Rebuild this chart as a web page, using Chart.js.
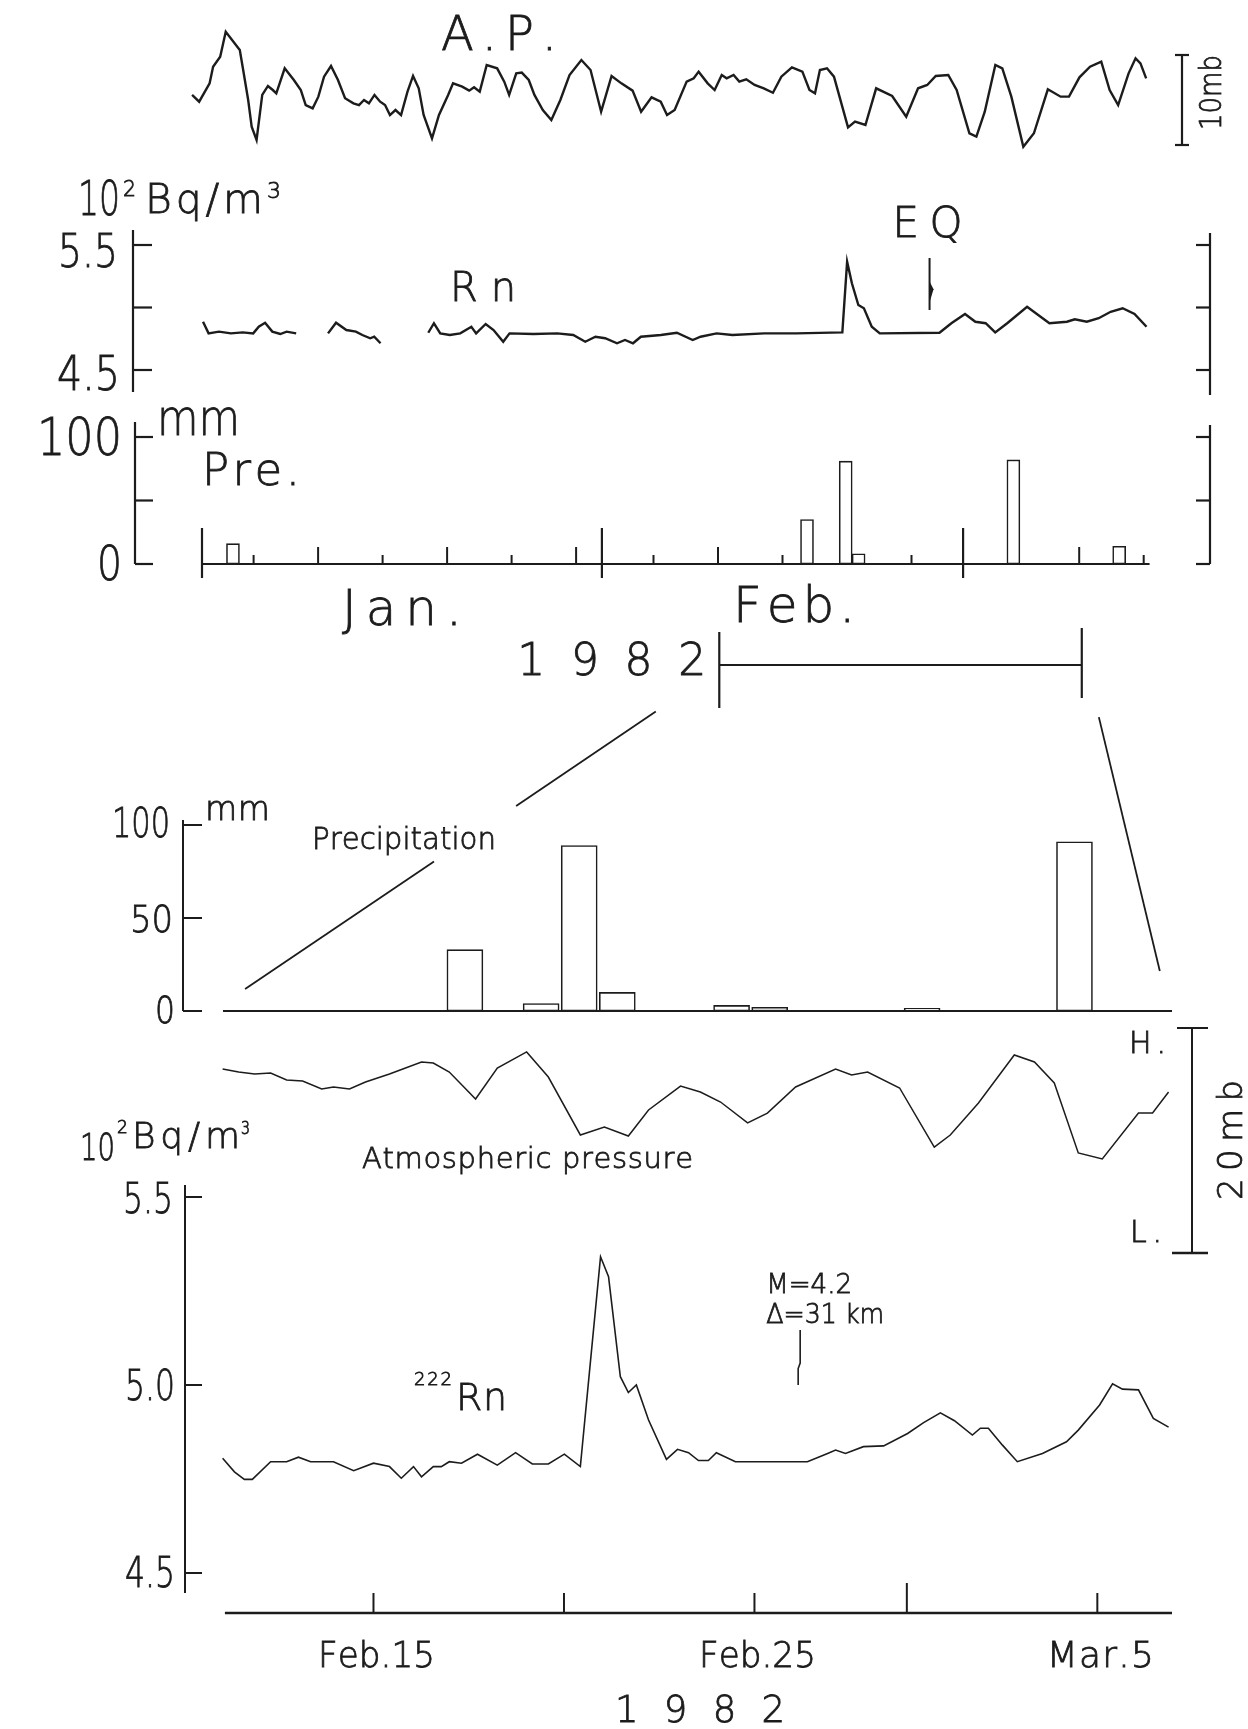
<!DOCTYPE html>
<html>
<head>
<meta charset="utf-8">
<title>Radon, atmospheric pressure and precipitation, 1982</title>
<script src="https://cdn.jsdelivr.net/npm/chart.js@4.4.1/dist/chart.umd.min.js"></script>
<style>
  html, body { margin: 0; padding: 0; background: #fff; }
  #sheet { position: relative; width: 1248px; height: 1729px; overflow: hidden; background: #fff; }
  #sheet canvas { position: absolute; left: 0; }
</style>
</head>
<body>
<div id="sheet"></div>
<script>
const INK = '#1c1c1c';
const FACE = '"DejaVu Sans", "Liberation Sans", sans-serif';
const WEIGHT = '200';

// ---------- Jan - Mar record, x = days since 1 Jan 1982 ----------
const apYearDay = [-0.77,-0.22,0.59,0.86,1.41,1.84,2.93,3.15,3.58,3.85,
  4.23,4.67,5.11,5.49,5.76,6.41,7.12,7.66,8.04,8.58,
  9.02,9.46,10.0,10.54,11.09,11.74,12.17,12.56,12.94,13.37,
  13.81,14.19,14.57,15.0,15.43,15.93,16.36,16.80,17.18,17.83,
  18.37,19.08,19.46,20.17,20.71,21.09,21.53,22.07,22.88,23.43,
  23.81,24.36,24.79,25.33,25.77,26.42,27.08,27.78,28.49,29.41,
  30.12,30.94,31.75,32.51,33.38,34.04,34.85,35.56,36.05,36.64,
  37.57,38.12,38.5,39.2,39.74,40.29,40.67,41.21,41.65,42.19,
  42.84,43.55,44.26,44.91,45.73,46.54,47.09,47.52,47.9,48.45,
  48.99,50.08,50.62,51.43,52.26,52.80,53.5,54.59,55.51,56.22,
  56.88,57.85,58.50,59.49,60.03,60.68,61.5,62.04,62.74,63.67,
  64.49,65.57,66.56,67.21,68.02,68.84,69.71,70.36,71.02,71.83,
  72.37,72.75,73.19];
// pressure relative to an arbitrary zero, mb
const apYearMb = [5.56,4.81,6.85,8.70,9.81,12.59,10.56,8.70,5.0,2.04,
  0.56,5.56,6.56,6.11,5.74,8.52,7.22,6.11,4.44,4.07,
  5.37,7.59,8.78,7.22,5.19,4.63,4.44,5.0,4.63,5.56,
  4.81,4.44,3.33,3.89,3.33,5.93,7.67,6.30,3.33,0.74,
  3.33,5.56,6.85,6.48,6.04,6.41,5.93,8.89,8.52,7.04,
  5.56,7.96,8.04,7.22,5.56,3.89,2.78,5.0,7.78,9.44,
  8.33,3.70,7.67,6.85,6.04,3.70,5.30,4.81,3.33,3.89,
  7.04,7.41,8.15,6.85,6.11,7.78,7.41,7.78,7.04,7.30,
  6.67,6.30,5.81,7.59,8.63,8.15,6.11,5.74,8.33,8.52,
  7.59,1.96,2.59,2.22,6.30,5.93,5.44,3.15,6.30,6.67,
  7.67,7.78,6.11,1.30,0.93,3.70,8.89,8.52,5.37,-0.19,
  1.30,6.19,5.37,5.37,7.52,8.70,9.26,6.11,4.44,7.96,
  9.63,9.07,7.41];

// radon, 10^2 Bq/m3 (null = no record)
const rnYearDay = [0.08,0.51,1.31,2.24,3.16,3.97,4.40,4.89,5.45,6.07,6.56,7.30,
  8.5,
  9.77,10.39,11.19,11.93,12.43,13.04,13.35,13.84,
  15.5,
  17.54,17.98,18.47,19.21,20.02,20.88,21.25,21.99,22.60,23.35,
  23.84,25.69,27.54,28.78,29.71,30.5,31.25,32.17,32.79,33.41,
  34.02,35.57,36.81,38.04,38.65,39.89,41.12,43.59,46.06,49.64,
  50.01,50.38,50.88,51.31,51.92,52.54,57.17,58.09,59.15,59.95,
  60.75,61.49,62.42,63.96,65.69,67.05,67.66,68.59,69.51,70.44,
  71.37,72.29,73.22];
const rnYearVal = [4.886,4.793,4.807,4.793,4.801,4.793,4.846,4.878,4.807,4.788,4.807,4.793,
  null,
  4.793,4.878,4.82,4.807,4.78,4.754,4.766,4.714,
  null,
  4.798,4.874,4.793,4.78,4.793,4.846,4.793,4.868,4.82,4.726,
  4.793,4.788,4.793,4.78,4.726,4.766,4.754,4.714,4.74,4.714,
  4.766,4.78,4.798,4.74,4.766,4.793,4.78,4.793,4.793,4.801,
  5.366,5.194,5.02,4.994,4.846,4.793,4.798,4.874,4.948,4.886,
  4.874,4.801,4.874,5.006,4.874,4.886,4.906,4.886,4.914,4.966,
  4.994,4.948,4.846];

// daily precipitation, mm
const rainYearDay = [2.4, 46.9, 49.9, 50.9, 62.9, 71.1];
const rainYearMm = [16, 35, 81, 8, 82, 14];

const eqYearDay = 56.4;
const monthStart = [0, 31, 59];
const monthDays = [31, 28, 31];
const yearEnd = 73.3;

// ---------- Feb - Mar detail, x = day of February (1 Mar = 29) ----------
const rainDay = [17.4, 19.4, 20.4, 21.4, 24.4, 25.4, 29.4, 33.4];
const rainMm = [33, 4, 89, 10, 3, 2, 1.5, 91];

const apDay = [11.04,11.46,11.88,12.30,12.72,13.14,13.64,13.95,14.37,14.79,
  15.42,16.26,16.57,16.99,17.68,18.25,19.02,19.59,20.43,21.06,
  21.69,22.22,23.06,23.58,24.11,24.82,25.34,26.08,27.13,27.55,
  27.97,28.81,29.72,30.14,30.88,31.82,32.35,32.87,33.5,34.13,
  35.08,35.45,35.87];
const apMb = [16.36,16.09,15.91,16.0,15.38,15.29,14.58,14.76,14.58,15.2,
  15.91,16.98,16.89,16.09,13.69,16.44,17.87,15.64,10.49,11.2,
  10.4,12.71,14.84,14.31,13.42,11.56,12.44,14.76,16.36,15.82,
  16.09,14.67,9.42,10.49,13.33,17.6,16.98,15.11,8.89,8.36,
  12.44,12.44,14.31];

const rnDay = [11.04,11.35,11.61,11.82,12.30,12.72,13.03,13.35,13.95,14.48,
  15.00,15.42,15.73,16.05,16.26,16.57,16.78,16.99,17.31,17.73,
  18.25,18.73,19.17,19.59,20.01,20.43,20.96,21.17,21.48,21.69,
  21.90,22.22,22.69,22.98,23.27,23.53,23.79,24.00,24.50,26.39,
  26.92,27.13,27.39,27.86,28.39,29.02,29.44,29.88,30.25,30.72,
  30.93,31.14,31.51,31.90,32.56,33.19,33.50,34.06,34.40,34.66,
  35.08,35.47,35.87];
const rnVal = [4.805,4.769,4.749,4.749,4.796,4.796,4.808,4.796,4.796,4.772,
  4.792,4.783,4.752,4.783,4.756,4.783,4.783,4.796,4.792,4.816,
  4.787,4.820,4.790,4.790,4.816,4.783,5.341,5.288,5.022,4.980,
  5.000,4.907,4.802,4.829,4.820,4.799,4.799,4.820,4.796,4.796,
  4.818,4.827,4.818,4.836,4.838,4.871,4.900,4.926,4.905,4.867,
  4.885,4.885,4.840,4.796,4.818,4.849,4.880,4.947,5.003,4.989,
  4.987,4.911,4.888];

const eqDay = 26.2;
const detailTickDay = [15, 20, 25, 29, 34];
const detailTickText = ['Feb.15', '', 'Feb.25', '', 'Mar.5'];
const marchStart = 29;

// ---------- helpers ----------
const sheet = document.getElementById('sheet');

function pts(xs, ys) { return xs.map((x, i) => ({ x: x, y: ys[i] })); }

function stroke(ctx, coords, w) {
  ctx.save();
  ctx.strokeStyle = INK;
  ctx.lineWidth = w || 2;
  ctx.lineJoin = 'miter';
  ctx.beginPath();
  coords.forEach((p, i) => i ? ctx.lineTo(p[0], p[1]) : ctx.moveTo(p[0], p[1]));
  ctx.stroke();
  ctx.restore();
}

// text stretched (letter gaps) or squeezed to an exact run width
function label(ctx, str, x, y, size, width, align, rot) {
  ctx.save();
  ctx.font = WEIGHT + ' ' + size + 'px ' + FACE;
  ctx.fillStyle = INK;
  ctx.strokeStyle = INK;
  ctx.lineWidth = 0.8;
  ctx.textAlign = 'left';
  ctx.textBaseline = 'alphabetic';
  const chars = Array.from(str);
  const ws = chars.map(c => ctx.measureText(c).width);
  const nat = ws.reduce((a, b) => a + b, 0);
  let sx = 1, gap = 0;
  if (nat > width) sx = width / nat;
  else if (chars.length > 1) gap = (width - nat) / (chars.length - 1);
  ctx.translate(x, y);
  if (rot) ctx.rotate(rot);
  let cx = align === 'center' ? -width / 2 : align === 'right' ? -width : 0;
  chars.forEach((c, i) => {
    ctx.save();
    ctx.translate(cx, 0);
    ctx.scale(sx, 1);
    ctx.fillText(c, 0, 0);
    ctx.strokeText(c, 0, 0);
    ctx.restore();
    cx += ws[i] * sx + gap;
  });
  ctx.restore();
}

function lineSet(data, w) {
  return { type: 'line', data: data, borderColor: INK, borderWidth: w, pointRadius: 0,
    tension: 0, fill: false, spanGaps: false, borderJoinStyle: 'miter' };
}

function barSet(data, thick) {
  return { type: 'bar', data: data, backgroundColor: '#ffffff', borderColor: INK,
    borderWidth: 1.6, borderSkipped: false, barThickness: thick };
}

function panel(top, height, pad, xr, yr, datasets, hooks) {
  const cv = document.createElement('canvas');
  cv.width = 1248;
  cv.height = height;
  cv.style.top = top + 'px';
  sheet.appendChild(cv);
  return new Chart(cv, {
    type: 'line',
    data: { datasets: datasets },
    options: {
      responsive: false, animation: false, devicePixelRatio: 1, events: [],
      layout: { padding: pad },
      scales: {
        x: { type: 'linear', display: false, min: xr[0], max: xr[1], offset: false },
        y: { type: 'linear', display: false, min: yr[0], max: yr[1] }
      },
      plugins: { legend: { display: false }, tooltip: { enabled: false } }
    },
    plugins: [Object.assign({ id: 'deco' + top }, hooks)]
  });
}

// Jan-Mar panels share one day axis: 1 Jan at x=202, 12.9 px per day
const YEAR_X = [-5.349, 78.14];
const YEAR_PAD = { left: 133, right: 38 };
// Feb-Mar detail panels: 38.1 px per day
const DETAIL_X = [10, 35.96];
const DETAIL_PAD = { left: 183, right: 76 };

// ---------- A.P. (upper) ----------
panel(0, 180, Object.assign({ top: 10, bottom: 20 }, YEAR_PAD), YEAR_X, [-1.667, 15],
  [lineSet(pts(apYearDay, apYearMb), 2.4)], {
  afterDraw(chart) {
    const ctx = chart.ctx, ys = chart.scales.y;
    const x = 1182, y0 = ys.getPixelForValue(0), y1 = ys.getPixelForValue(10);
    stroke(ctx, [[x, y0], [x, y1]], 2.2);
    stroke(ctx, [[x - 7, y0], [x + 7, y0]], 2.2);
    stroke(ctx, [[x - 7, y1], [x + 7, y1]], 2.2);
    label(ctx, '10mb', 1221, 130, 30, 75, 'left', -Math.PI / 2);
    label(ctx, 'A.P.', 441, 50, 48, 116);
  }
});

// ---------- Rn (upper) ----------
panel(170, 240, Object.assign({ top: 60, bottom: 18 }, YEAR_PAD), YEAR_X, [4.324, 5.62],
  [lineSet(pts(rnYearDay, rnYearVal), 2.4)], {
  afterDraw(chart) {
    const ctx = chart.ctx, xs = chart.scales.x, ys = chart.scales.y, oy = 170;
    const L = chart.chartArea.left, R = chart.chartArea.right;
    stroke(ctx, [[L, 230 - oy], [L, 392 - oy]], 2.2);
    stroke(ctx, [[R, 233 - oy], [R, 395 - oy]], 2.2);
    [5.5, 5.0, 4.5].forEach(v => {
      const y = ys.getPixelForValue(v);
      stroke(ctx, [[L, y], [L + 19, y]], 2.2);
      stroke(ctx, [[R - 14, y], [R, y]], 2.2);
    });
    label(ctx, '10', 78, 215 - oy, 48, 42);
    label(ctx, '2', 123, 196 - oy, 22, 13);
    label(ctx, 'Bq/m', 145, 213 - oy, 41, 118);
    label(ctx, '3', 267, 198 - oy, 22, 15);
    label(ctx, '5.5', 118, 267 - oy, 47, 60, 'right');
    label(ctx, '4.5', 120, 390 - oy, 48, 63, 'right');
    label(ctx, 'Rn', 450, 301 - oy, 40, 66);
    // earthquake mark
    const ex = xs.getPixelForValue(eqYearDay);
    const et = ys.getPixelForValue(5.396), eb = ys.getPixelForValue(4.98);
    stroke(ctx, [[ex, et], [ex, eb]], 2);
    ctx.save();
    ctx.fillStyle = INK;
    ctx.beginPath();
    ctx.moveTo(ex, et + 0.45 * (eb - et));
    ctx.lineTo(ex + 4, et + 0.6 * (eb - et));
    ctx.lineTo(ex, et + 0.85 * (eb - et));
    ctx.closePath();
    ctx.fill();
    ctx.restore();
    label(ctx, 'EQ', ex - 2, 237 - oy, 42, 70, 'center');
  }
});

// ---------- Pre. (upper) ----------
function yearTicks() {
  const out = [];
  monthStart.forEach((s, m) => {
    out.push({ t: s, kind: 'month' });
    for (let d = 5; d <= monthDays[m]; d += 5) {
      const t = s + d - 1;
      if (t <= yearEnd) out.push({ t: t, kind: d % 10 ? 'five' : 'ten' });
    }
  });
  return out;
}

panel(400, 320, Object.assign({ top: 22, bottom: 143 }, YEAR_PAD), YEAR_X, [-10.24, 111.81],
  [barSet(pts(rainYearDay, rainYearMm), 13)], {
  beforeDatasetsDraw(chart) {
    const ctx = chart.ctx, xs = chart.scales.x, ys = chart.scales.y;
    const y0 = ys.getPixelForValue(0);
    stroke(ctx, [[xs.getPixelForValue(0) - 1, y0], [xs.getPixelForValue(yearEnd) + 2, y0]], 2.2);
    yearTicks().forEach(tk => {
      const x = xs.getPixelForValue(tk.t);
      if (tk.kind === 'month') stroke(ctx, [[x, y0 - 36], [x, y0 + 14]], 2.2);
      else stroke(ctx, [[x, y0 - (tk.kind === 'ten' ? 17 : 9)], [x, y0]], 2);
    });
  },
  afterDraw(chart) {
    const ctx = chart.ctx, xs = chart.scales.x, ys = chart.scales.y, oy = 400;
    const L = 135, R = chart.chartArea.right;
    stroke(ctx, [[L, 422 - oy], [L, ys.getPixelForValue(0)]], 2.2);
    stroke(ctx, [[R, 425 - oy], [R, ys.getPixelForValue(0)]], 2.2);
    [100, 50, 0].forEach(v => {
      const y = ys.getPixelForValue(v);
      stroke(ctx, [[L, y], [L + 18, y]], 2.2);
      stroke(ctx, [[R - 14, y], [R, y]], 2.2);
    });
    label(ctx, '100', 122, 455 - oy, 52, 85, 'right');
    label(ctx, 'mm', 157, 435 - oy, 49, 83);
    label(ctx, '0', 122, 580 - oy, 48, 25, 'right');
    label(ctx, 'Pre.', 202, 485 - oy, 45, 98);
    label(ctx, 'Jan.', xs.getPixelForValue(15.5), 625 - oy, 50, 120, 'center');
    label(ctx, 'Feb.', xs.getPixelForValue(45.9), 622 - oy, 50, 122, 'center');
    // span of the detail panels below
    const b0 = xs.getPixelForValue(40.1), b1 = xs.getPixelForValue(68.2);
    stroke(ctx, [[b0, 665 - oy], [b1, 665 - oy]], 2.2);
    stroke(ctx, [[b0, 632 - oy], [b0, 708 - oy]], 2.2);
    stroke(ctx, [[b1, 628 - oy], [b1, 698 - oy]], 2.2);
    label(ctx, '1982', b0 - 13, 675 - oy, 44, 189, 'right');
  }
});

// ---------- Precipitation (detail) ----------
panel(690, 340, Object.assign({ top: 130, bottom: 14 }, DETAIL_PAD), DETAIL_X, [-2.69, 102.69],
  [barSet(pts(rainDay, rainMm), 36)], {
  beforeDatasetsDraw(chart) {
    const ctx = chart.ctx, xs = chart.scales.x, ys = chart.scales.y;
    const y0 = ys.getPixelForValue(0);
    stroke(ctx, [[xs.getPixelForValue(11.05), y0], [xs.getPixelForValue(35.96), y0]], 2.2);
  },
  afterDraw(chart) {
    const ctx = chart.ctx, xs = chart.scales.x, ys = chart.scales.y, oy = 690;
    const L = chart.chartArea.left;
    stroke(ctx, [[L, 820 - oy], [L, ys.getPixelForValue(0)]], 2);
    [100, 50, 0].forEach(v => {
      const y = ys.getPixelForValue(v);
      stroke(ctx, [[L, y], [L + 19, y]], 2);
    });
    label(ctx, '100', 170, 837 - oy, 41, 58, 'right');
    label(ctx, 'mm', 205, 820 - oy, 33, 65);
    label(ctx, '50', 173, 932 - oy, 38, 43, 'right');
    label(ctx, '0', 175, 1023 - oy, 38, 20, 'right');
    label(ctx, 'Precipitation', 312, 849 - oy, 30, 184);
    // zoom guides from the Jan-Mar record
    const a = [xs.getPixelForValue(22.41), ys.getPixelForValue(161)];
    const b = [xs.getPixelForValue(11.63), ys.getPixelForValue(11.8)];
    const at = f => [a[0] + (b[0] - a[0]) * f, a[1] + (b[1] - a[1]) * f];
    stroke(ctx, [a, at(0.34)], 1.8);
    stroke(ctx, [at(0.54), b], 1.8);
    stroke(ctx, [[xs.getPixelForValue(34.04), ys.getPixelForValue(158)],
                 [xs.getPixelForValue(35.64), ys.getPixelForValue(21.5)]], 1.8);
  }
});

// ---------- Atmospheric pressure (detail) ----------
panel(1015, 260, Object.assign({ top: 13, bottom: 22 }, DETAIL_PAD), DETAIL_X, [0, 20],
  [lineSet(pts(apDay, apMb), 1.5)], {
  afterDraw(chart) {
    const ctx = chart.ctx, ys = chart.scales.y, oy = 1015;
    const x = 1192, yh = ys.getPixelForValue(20), yl = ys.getPixelForValue(0);
    stroke(ctx, [[x, yh], [x, yl]], 2);
    stroke(ctx, [[x - 15, yh], [x + 16, yh]], 2);
    stroke(ctx, [[x - 20, yl], [x + 16, yl]], 2.4);
    label(ctx, 'H.', 1129, 1053 - oy, 30, 37);
    label(ctx, 'L.', 1130, 1242 - oy, 30, 32);
    label(ctx, '20mb', 1242, 1200 - oy, 34, 120, 'left', -Math.PI / 2);
    label(ctx, 'Atmospheric pressure', 362, 1168 - oy, 29, 331);
  }
});

// ---------- 222Rn (detail) ----------
panel(1100, 629, Object.assign({ top: 90, bottom: 136 }, DETAIL_PAD), DETAIL_X, [4.4468, 5.5186],
  [lineSet(pts(rnDay, rnVal), 1.6)], {
  afterDraw(chart) {
    const ctx = chart.ctx, xs = chart.scales.x, ys = chart.scales.y, oy = 1100;
    const L = 185;
    stroke(ctx, [[L, 1185 - oy], [L, 1593 - oy]], 2);
    [5.5, 5.0, 4.5].forEach(v => {
      const y = ys.getPixelForValue(v);
      stroke(ctx, [[L, y], [L + 17, y]], 2);
    });
    label(ctx, '5.5', 173, 1213 - oy, 42, 50, 'right');
    label(ctx, '5.0', 175, 1400 - oy, 42, 50, 'right');
    label(ctx, '4.5', 175, 1587 - oy, 42, 50, 'right');
    label(ctx, '10', 80, 1160 - oy, 37, 35);
    label(ctx, '2', 117, 1133 - oy, 17, 11);
    label(ctx, 'Bq/m', 132, 1148 - oy, 36, 108);
    label(ctx, '3', 241, 1134 - oy, 17, 9);
    label(ctx, '222', 414, 1385 - oy, 18, 38);
    label(ctx, 'Rn', 456, 1410 - oy, 38, 51);
    // time axis
    const yb = 1613 - oy;
    stroke(ctx, [[xs.getPixelForValue(11.1), yb], [chart.chartArea.right, yb]], 2.4);
    detailTickDay.forEach((d, i) => {
      const x = xs.getPixelForValue(d);
      stroke(ctx, [[x, yb - (d === marchStart ? 30 : 20)], [x, yb]], 2);
      if (detailTickText[i]) {
        const w = detailTickText[i].length > 5 ? 117 : 107;
        label(ctx, detailTickText[i], x + 3, 1667 - oy, 36, w, 'center');
      }
    });
    label(ctx, '1982', 700, 1722 - oy, 37, 170, 'center');
    // earthquake mark
    const ex = xs.getPixelForValue(eqDay);
    const et = ys.getPixelForValue(5.146), eb = ys.getPixelForValue(5.0);
    stroke(ctx, [[ex, et], [ex, et + 0.6 * (eb - et)], [ex - 2, et + 0.7 * (eb - et)], [ex - 2, eb]], 1.6);
    label(ctx, 'M=4.2', ex - 34, 1293 - oy, 27, 86);
    label(ctx, '\u0394=31 km', ex - 34, 1323 - oy, 27, 118);
  }
});
</script>
</body>
</html>
